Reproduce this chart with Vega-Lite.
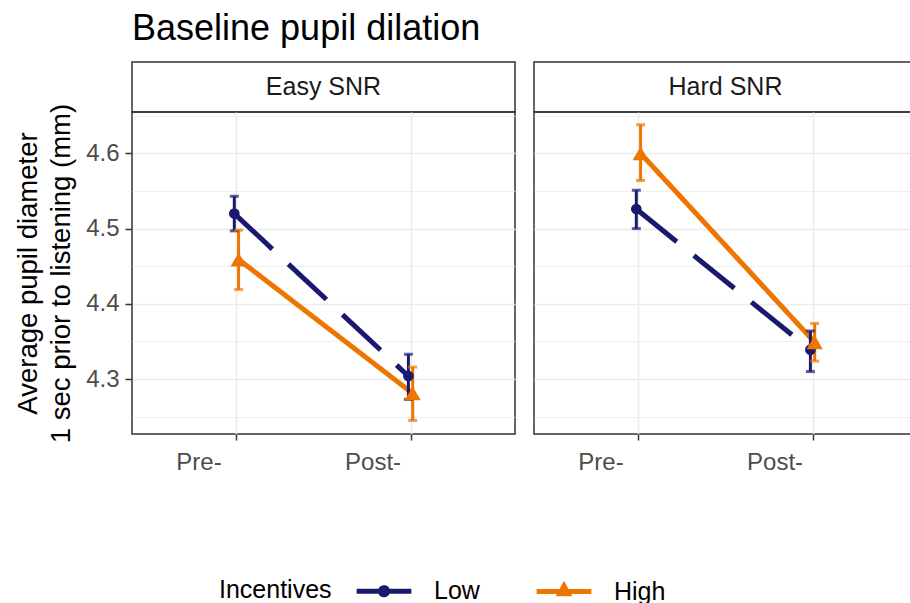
{
  "$schema": "https://vega.github.io/schema/vega-lite/v6.json",
  "background": "white",
  "padding": {"left": 13, "top": 11, "right": 0, "bottom": 0},
  "title": {"text": "Baseline pupil dilation", "fontSize": 36, "font": "Liberation Sans", "fontWeight": "normal", "anchor": "start", "frame": "group", "color": "black", "offset": 13},
  "datasets": {
    "pupil": [
      {"SNR": "Easy SNR", "Time": "Pre-", "Incentives": "Low", "mean": 4.520, "lo": 4.497, "hi": 4.543},
      {"SNR": "Easy SNR", "Time": "Pre-", "Incentives": "High", "mean": 4.459, "lo": 4.419, "hi": 4.498},
      {"SNR": "Easy SNR", "Time": "Post-", "Incentives": "Low", "mean": 4.304, "lo": 4.273, "hi": 4.333},
      {"SNR": "Easy SNR", "Time": "Post-", "Incentives": "High", "mean": 4.281, "lo": 4.245, "hi": 4.316},
      {"SNR": "Hard SNR", "Time": "Pre-", "Incentives": "Low", "mean": 4.526, "lo": 4.500, "hi": 4.551},
      {"SNR": "Hard SNR", "Time": "Pre-", "Incentives": "High", "mean": 4.600, "lo": 4.564, "hi": 4.638},
      {"SNR": "Hard SNR", "Time": "Post-", "Incentives": "Low", "mean": 4.339, "lo": 4.310, "hi": 4.364},
      {"SNR": "Hard SNR", "Time": "Post-", "Incentives": "High", "mean": 4.349, "lo": 4.324, "hi": 4.374}
    ]
  },
  "config": {
    "font": "Liberation Sans",
    "view": {"stroke": "#333333", "strokeWidth": 1.5},
    "axis": {"labelFont": "Liberation Sans", "titleFont": "Liberation Sans"}
  },
  "spacing": 17,
  "hconcat": [
    {
      "spacing": 0,
      "bounds": "flush",
      "vconcat": [
        {
          "width": 383, "height": 50,
          "view": {"stroke": "#333333", "strokeWidth": 1.5},
          "data": {"values": [{"label": "Easy SNR"}]},
          "mark": {"type": "text", "fontSize": 25, "color": "#1A1A1A"},
          "encoding": {"text": {"field": "label", "type": "nominal"}}
        },
        {
          "width": 383, "height": 322,
          "data": {"name": "pupil"},
          "transform": [{"filter": "datum.SNR === 'Easy SNR'"}],
          "encoding": {
            "x": {"field": "Time", "type": "nominal", "sort": ["Pre-", "Post-"], "scale": {"type": "point", "padding": 0.6},
                  "axis": {"title": null, "labelAngle": 0, "labelFontSize": 24, "labelColor": "#4D4D4D", "labelOffset": -38, "labelPadding": 10, "tickSize": 6, "tickWidth": 1.5, "tickColor": "#333333", "domain": false, "grid": true, "gridColor": "#EBEBEB", "gridWidth": 1.5}},
            "xOffset": {"field": "Incentives", "type": "nominal", "scale": {"domain": ["Low", "High"], "range": [-4.3, 4.3]}},
            "color": {"field": "Incentives", "type": "nominal", "scale": {"domain": ["Low", "High"], "range": ["#191970", "#EE7600"]},
                      "legend": {"orient": "none", "legendX": 87, "legendY": 499, "direction": "horizontal", "title": "Incentives", "titleOrient": "left", "titleAnchor": "middle", "titleBaseline": "middle", "titleFontSize": 25, "titleFontWeight": "normal", "titleColor": "black", "titlePadding": 22, "labelFontSize": 25, "labelColor": "black", "labelOffset": 20, "columnPadding": 46, "symbolSize": 3000, "symbolStrokeWidth": 5,
                        "encode": {
                          "title": {"update": {"dy": {"value": 7}}},
                          "symbols": {"update": {
                          "shape": {"signal": "datum.value === 'Low' ? 'M-1,0H1M0.13,0A0.13,0.13,0,1,1,-0.13,0A0.13,0.13,0,1,1,0.13,0Z' : 'M-1,0H1M0,-0.2L0.15,0.08L-0.15,0.08Z'"},
                          "fill": {"signal": "datum.value === 'Low' ? '#191970' : '#EE7600'"},
                          "stroke": {"signal": "datum.value === 'Low' ? '#191970' : '#EE7600'"},
                          "strokeWidth": {"value": 5},
                          "strokeDash": {"value": [1, 0]},
                          "size": {"value": 3000},
                          "opacity": {"value": 1},
                          "fillOpacity": {"value": 1}
                        }}}}}
          },
          "layer": [
            {
              "mark": {"type": "line", "strokeWidth": 5},
              "encoding": {
                "y": {"field": "mean", "type": "quantitative", "scale": {"domain": [4.227, 4.655], "nice": false, "zero": false},
                      "axis": {"title": ["Average pupil diameter", "1 sec prior to listening (mm)"], "titleFontSize": 27.5, "titleFontWeight": "normal", "titleColor": "black", "titleLineHeight": 33, "titlePadding": 10,
                               "values": [4.25, 4.3, 4.35, 4.4, 4.45, 4.5, 4.55, 4.6, 4.65],
                               "labelExpr": "abs(datum.value * 10 - round(datum.value * 10)) < 0.01 ? format(datum.value, '.1f') : ''",
                               "labelFontSize": 24, "labelColor": "#4D4D4D", "labelPadding": 6, "tickSize": 7, "tickColor": "#333333", "tickWidth": 1.5,
                               "tickOpacity": {"condition": {"test": "abs(datum.value * 10 - round(datum.value * 10)) < 0.01", "value": 1}, "value": 0},
                               "domain": false, "grid": true, "gridColor": "#EBEBEB",
                               "gridWidth": {"condition": {"test": "abs(datum.value * 10 - round(datum.value * 10)) < 0.01", "value": 1.6}, "value": 0.8}}},
                "strokeDash": {"condition": {"test": "datum.Incentives === 'Low'", "value": [52, 22]}, "value": [1, 0]}
              }
            },
            {
              "mark": {"type": "rule", "strokeWidth": 3},
              "encoding": {"y": {"field": "lo", "type": "quantitative"}, "y2": {"field": "hi"}}
            },
            {
              "mark": {"type": "tick", "orient": "horizontal", "size": 9, "thickness": 3},
              "encoding": {"y": {"field": "lo", "type": "quantitative"}}
            },
            {
              "mark": {"type": "tick", "orient": "horizontal", "size": 9, "thickness": 3},
              "encoding": {"y": {"field": "hi", "type": "quantitative"}}
            },
            {
              "mark": {"type": "point", "filled": true, "opacity": 1},
              "encoding": {
                "y": {"field": "mean", "type": "quantitative"},
                "shape": {"condition": {"test": "datum.Incentives === 'High'", "value": "triangle-up"}, "value": "circle"},
                "size": {"condition": {"test": "datum.Incentives === 'High'", "value": 260}, "value": 115}
              }
            }
          ]
        }
      ]
    },
    {
      "spacing": 0,
      "bounds": "flush",
      "vconcat": [
        {
          "width": 383, "height": 50,
          "view": {"stroke": "#333333", "strokeWidth": 1.5},
          "data": {"values": [{"label": "Hard SNR"}]},
          "mark": {"type": "text", "fontSize": 25, "color": "#1A1A1A"},
          "encoding": {"text": {"field": "label", "type": "nominal"}}
        },
        {
          "width": 383, "height": 322,
          "data": {"name": "pupil"},
          "transform": [{"filter": "datum.SNR === 'Hard SNR'"}],
          "encoding": {
            "x": {"field": "Time", "type": "nominal", "sort": ["Pre-", "Post-"], "scale": {"type": "point", "padding": 0.6},
                  "axis": {"title": null, "labelAngle": 0, "labelFontSize": 24, "labelColor": "#4D4D4D", "labelOffset": -38, "labelPadding": 10, "tickSize": 6, "tickWidth": 1.5, "tickColor": "#333333", "domain": false, "grid": true, "gridColor": "#EBEBEB", "gridWidth": 1.5}},
            "xOffset": {"field": "Incentives", "type": "nominal", "scale": {"domain": ["Low", "High"], "range": [-4.3, 4.3]}},
            "color": {"field": "Incentives", "type": "nominal", "scale": {"domain": ["Low", "High"], "range": ["#191970", "#EE7600"]}, "legend": null}
          },
          "layer": [
            {
              "mark": {"type": "line", "strokeWidth": 5},
              "encoding": {
                "y": {"field": "mean", "type": "quantitative", "scale": {"domain": [4.227, 4.655], "nice": false, "zero": false},
                      "axis": {"title": null, "labels": false, "ticks": false, "domain": false,
                               "values": [4.25, 4.3, 4.35, 4.4, 4.45, 4.5, 4.55, 4.6, 4.65],
                               "grid": true, "gridColor": "#EBEBEB",
                               "gridWidth": {"condition": {"test": "abs(datum.value * 10 - round(datum.value * 10)) < 0.01", "value": 1.6}, "value": 0.8}}},
                "strokeDash": {"condition": {"test": "datum.Incentives === 'Low'", "value": [52, 22]}, "value": [1, 0]}
              }
            },
            {
              "mark": {"type": "rule", "strokeWidth": 3},
              "encoding": {"y": {"field": "lo", "type": "quantitative"}, "y2": {"field": "hi"}}
            },
            {
              "mark": {"type": "tick", "orient": "horizontal", "size": 9, "thickness": 3},
              "encoding": {"y": {"field": "lo", "type": "quantitative"}}
            },
            {
              "mark": {"type": "tick", "orient": "horizontal", "size": 9, "thickness": 3},
              "encoding": {"y": {"field": "hi", "type": "quantitative"}}
            },
            {
              "mark": {"type": "point", "filled": true, "opacity": 1},
              "encoding": {
                "y": {"field": "mean", "type": "quantitative"},
                "shape": {"condition": {"test": "datum.Incentives === 'High'", "value": "triangle-up"}, "value": "circle"},
                "size": {"condition": {"test": "datum.Incentives === 'High'", "value": 260}, "value": 115}
              }
            }
          ]
        }
      ]
    }
  ]
}
